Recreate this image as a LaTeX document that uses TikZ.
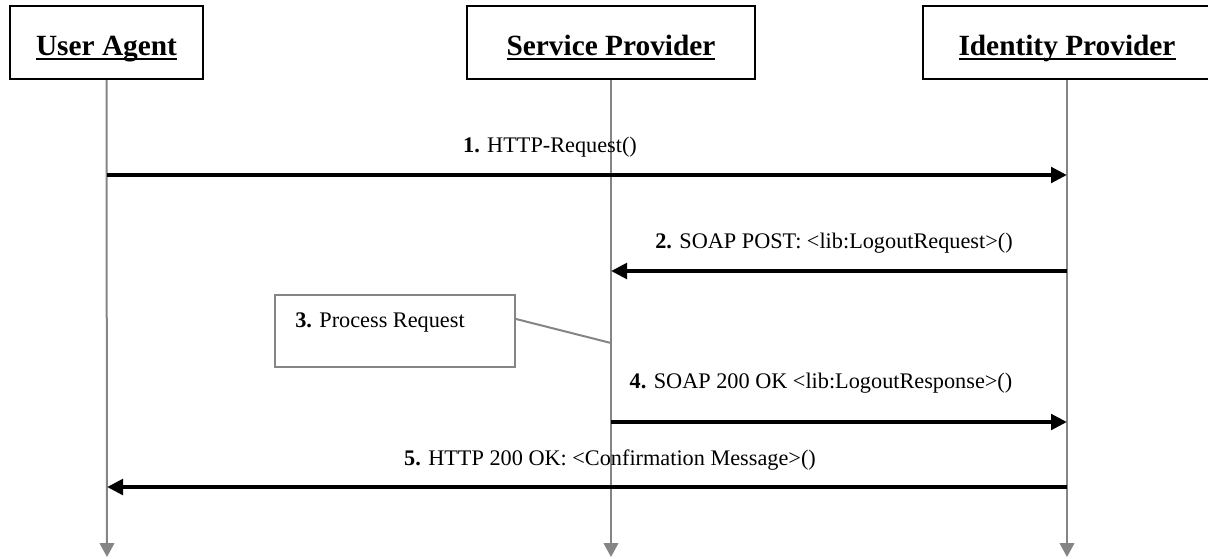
\documentclass[tikz,border=0pt]{standalone}
\usepackage{fontspec}
\setmainfont{Liberation Serif}
\usetikzlibrary{arrows.meta}
\definecolor{lifegray}{HTML}{858585}
% heavier underline for participant names
\newcommand\headul[1]{\setbox0\hbox{#1}\rlap{\rule[-4pt]{\wd0}{1.6pt}}\box0}
\begin{document}
\begin{tikzpicture}[x=0.75pt,y=-0.75pt,
  actor/.style={draw=black,line width=1.5pt,fill=white,inner sep=0pt,
    minimum height=54.75pt,text height=18.75pt,text depth=0pt,
    font=\fontsize{22}{26}\selectfont\bfseries},
  lifeline/.style={draw=lifegray,line width=1.5pt,
    -{Triangle[length=10.5pt,width=11pt]}},
  msg/.style={draw=black,line width=3pt,
    -{Triangle[length=12pt,width=11.5pt]}},
  msglabel/.style={inner sep=0pt,anchor=base,font=\fontsize{16.7}{20}\selectfont},
  note/.style={draw=lifegray,line width=1.5pt,fill=white,inner sep=0pt,
    minimum width=180pt,minimum height=54pt}]

\useasboundingbox (0,0) rectangle (1208,558);
\begin{scope}
\clip (0,0) rectangle (1208,558);

% participants
\node[actor,minimum width=144.75pt] (ua)  at (106.5,42.5) {\headul{User Agent}};
\node[actor,minimum width=216pt]    (sp)  at (611,42.5)   {\headul{Service Provider}};
\node[actor,minimum width=216pt]    (idp) at (1067,42.5)  {\headul{Identity Provider}};

% lifeline ends
\coordinate (uaend)  at (107,557);
\coordinate (spend)  at (611,557);
\coordinate (idpend) at (1067,557);

\draw[lifeline] (ua.south)  -- (uaend);
\draw[lifeline] (sp.south)  -- (spend);
\draw[lifeline] (idp.south) -- (idpend);

% message anchor points on the lifelines
\coordinate (ua1)  at (107,175);
\coordinate (idp1) at (1067,175);
\coordinate (idp2) at (1067,271);
\coordinate (sp2)  at (611,271);
\coordinate (sp4)  at (611,422);
\coordinate (idp4) at (1067,422);
\coordinate (idp5) at (1067,487);
\coordinate (ua5)  at (107,487);
\coordinate (sp3)  at (611,343);

% messages
\draw[msg] (ua1) -- (idp1);
\node[msglabel] (l1) at (550,152) {\textbf{1.} HTTP-Request()};

\draw[msg] (idp2) -- (sp2);
\node[msglabel] (l2) at (834,248) {\textbf{2.} SOAP POST: <lib:LogoutRequest>()};

\draw[msg] (sp4) -- (idp4);
\node[msglabel] (l4) at (821,388) {\textbf{4.} SOAP 200 OK <lib:LogoutResponse>()};

\draw[msg] (idp5) -- (ua5);
\node[msglabel] (l5) at (610,465) {\textbf{5.} HTTP 200 OK: <Confirmation Message>()};

% local processing note
\node[note] (proc) at (395,331) {};
\node[msglabel,anchor=base west] (proctxt) at (295,327) {\textbf{3.} Process Request};
\draw[draw=lifegray,line width=1.5pt] ([yshift=9pt]proc.east) -- (sp3);
\end{scope}
\end{tikzpicture}
\end{document}
